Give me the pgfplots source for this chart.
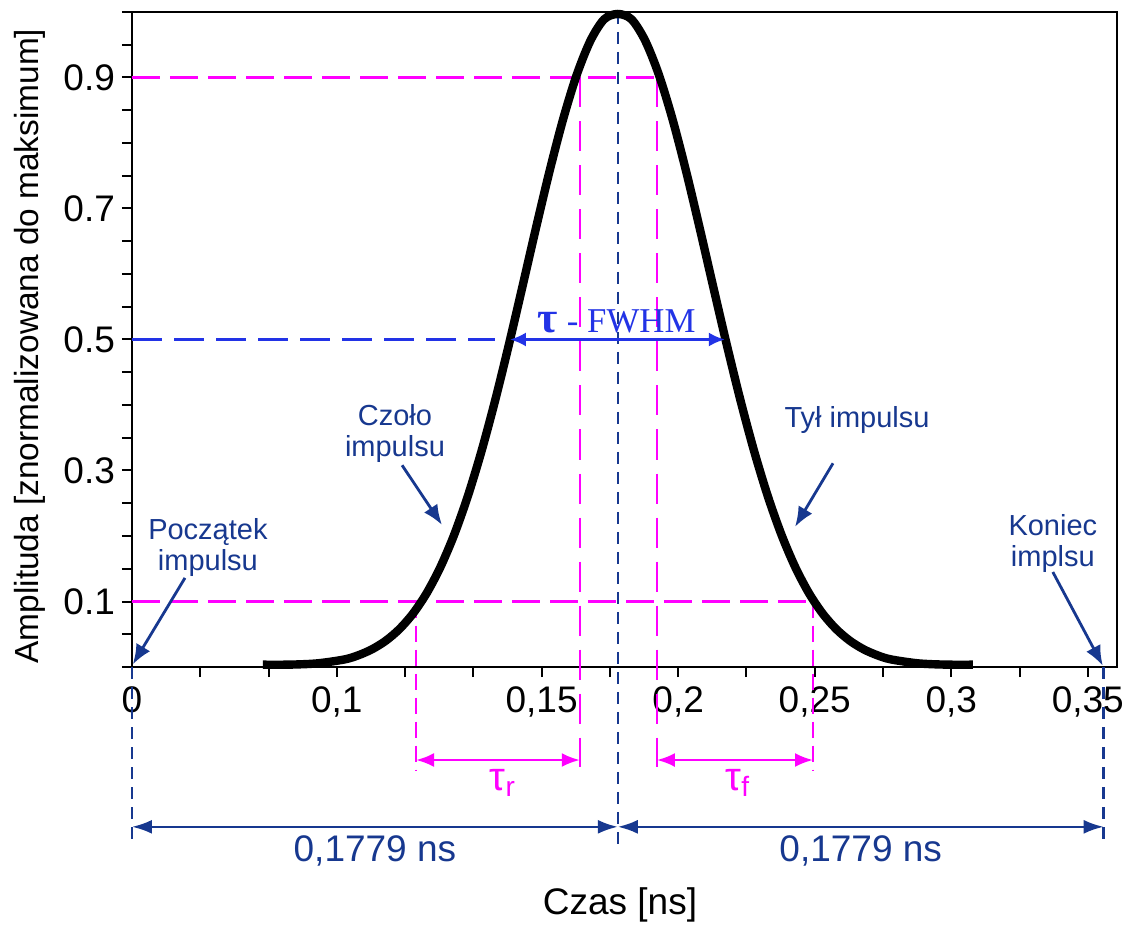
\documentclass[border=0pt]{standalone}
\usepackage{fontspec}
\setmainfont{Liberation Sans}
\newfontfamily\seriffont{Liberation Serif}
\usepackage{pgfplots}
\pgfplotsset{compat=1.18}
\usetikzlibrary{arrows.meta}
\definecolor{navy}{HTML}{17388F}
\definecolor{fwhm}{HTML}{2233E6}
\definecolor{mag}{HTML}{FF00FF}
\newcommand{\bigf}{\fontsize{18.5}{20}\selectfont}
\newcommand{\annf}{\fontsize{14.5}{15.5}\selectfont}
\begin{document}
\begin{tikzpicture}
\useasboundingbox (-66pt,-129.5pt) rectangle (498.5pt,333.5pt);
\begin{axis}[
  at={(0,0)}, anchor=south west,
  scale only axis, width=492.5pt, height=327.5pt,
  xmin=0, xmax=0.3607, ymin=0, ymax=1,
  clip=false,
  axis line style={line width=1pt},
  every tick/.style={line width=1pt, black},
  tick align=outside, major tick length=5pt,
  xtick pos=left, ytick pos=left,
  xtick={0,0.025,0.05,0.075,0.1,0.125,0.15,0.175,0.2,0.225,0.25,0.275,0.3,0.325,0.35},
  xticklabels={0,{},{},{0,1},{},{},{0,15},{},{0,2},{},{0,25},{},{0,3},{},{0,35}},
  ytick={0,0.05,0.1,0.15,0.2,0.25,0.3,0.35,0.4,0.45,0.5,0.55,0.6,0.65,0.7,0.75,0.8,0.85,0.9,0.95,1},
  yticklabels={{},{},0.1,{},{},{},0.3,{},{},{},0.5,{},{},{},0.7,{},{},{},0.9,{},{}},
  tick label style={font=\bigf},
  xticklabel style={yshift=-1.5pt},
  xlabel={Czas [ns]},
  xlabel style={font=\bigf, at={(axis description cs:0.4954,-0.363)}, anchor=center},
  ylabel={Amplituda [znormalizowana do maksimum]},
  ylabel style={font=\fontsize{16.7}{18}\selectfont, at={(axis description cs:-0.1036,0.49)}, anchor=center},
]
% magenta guide lines
\addplot[mag, line width=1.3pt, dash pattern=on 14pt off 5pt] coordinates {(0,0.9) (0.1922,0.9)};
\addplot[mag, line width=1.3pt, dash pattern=on 15pt off 7pt] coordinates {(0.1640,0.9) (0.1640,-0.153)};
\addplot[mag, line width=1.3pt, dash pattern=on 15pt off 7pt] coordinates {(0.1922,0.9) (0.1922,-0.153)};
\addplot[mag, line width=1.3pt, dash pattern=on 14pt off 5pt] coordinates {(0,0.1) (0.2494,0.1)};
\addplot[mag, line width=1.3pt, dash pattern=on 8pt off 4pt] coordinates {(0.1040,0.1) (0.1040,-0.157)};
\addplot[mag, line width=1.3pt, dash pattern=on 8pt off 4pt] coordinates {(0.2494,0.1) (0.2494,-0.157)};
% blue half-maximum line
\addplot[fwhm, line width=1.3pt, dash pattern=on 15pt off 6pt] coordinates {(0,0.5) (0.1330,0.5)};
% navy vertical guides
\addplot[navy, line width=1.2pt, dash pattern=on 6pt off 4pt] coordinates {(0.1779,1) (0.1779,-0.28)};
\addplot[navy, line width=1.2pt, dash pattern=on 6pt off 4pt] coordinates {(0,0) (0,-0.272)};
\addplot[navy, line width=1.2pt, dash pattern=on 6pt off 4pt] coordinates {(0.3558,0) (0.3558,-0.272)};
% pulse
\addplot[black, line width=4.2pt, smooth] coordinates {
(0.0479,0.00354) (0.0579,0.00364) (0.0679,0.00556) (0.0779,0.01162)
(0.0829,0.01794) (0.0879,0.02708) (0.0929,0.04000) (0.0979,0.05776)
(0.1029,0.08158) (0.1079,0.11269) (0.1129,0.15223) (0.1179,0.20111)
(0.1229,0.25983) (0.1279,0.32830) (0.1329,0.40568) (0.1379,0.49025)
(0.1429,0.57939) (0.1479,0.66968) (0.1529,0.75695) (0.1579,0.83677)
(0.1629,0.90462) (0.1679,0.95644) (0.1729,0.98892) (0.1779,0.997)
(0.1829,0.98892) (0.1879,0.95644) (0.1929,0.90462) (0.1979,0.83677)
(0.2029,0.75695) (0.2079,0.66968) (0.2129,0.57939) (0.2179,0.49025)
(0.2229,0.40568) (0.2279,0.32830) (0.2329,0.25983) (0.2379,0.20111)
(0.2429,0.15223) (0.2479,0.11269) (0.2529,0.08158) (0.2579,0.05776)
(0.2629,0.04000) (0.2679,0.02708) (0.2729,0.01794) (0.2779,0.01162)
(0.2879,0.00556) (0.2979,0.00364) (0.3079,0.00354)};
% FWHM arrow and label
\draw[fwhm, line width=1.3pt, {Latex[length=8pt,width=7pt]}-{Latex[length=8pt,width=7pt]}] (axis cs:0.1384,0.5) -- (axis cs:0.2171,0.5);
\node[fwhm, font=\seriffont\fontsize{17.4}{19}\selectfont] at (axis cs:0.1775,0.528) {{\fontsize{22}{22}\selectfont\textbf{τ}} - FWHM};
% rise / fall arrows
\draw[mag, line width=1.3pt, {Latex[length=9pt,width=7pt]}-{Latex[length=9pt,width=7pt]}] (axis cs:0.1040,-0.142) -- (axis cs:0.1640,-0.142);
\draw[mag, line width=1.3pt, {Latex[length=9pt,width=7pt]}-{Latex[length=9pt,width=7pt]}] (axis cs:0.1922,-0.142) -- (axis cs:0.2494,-0.142);
\node[mag, font=\fontsize{20}{22}\selectfont] at (axis cs:0.1358,-0.177) {τ\textsubscript{r}};
\node[mag, font=\fontsize{20}{22}\selectfont] at (axis cs:0.2219,-0.177) {τ\textsubscript{f}};
% half-period arrows
\draw[navy, line width=1.2pt, {Latex[length=10pt,width=7pt]}-{Latex[length=10pt,width=7pt]}] (axis cs:0,-0.244) -- (axis cs:0.1779,-0.244);
\draw[navy, line width=1.2pt, {Latex[length=10pt,width=7pt]}-{Latex[length=10pt,width=7pt]}] (axis cs:0.1779,-0.244) -- (axis cs:0.3558,-0.244);
\node[navy, font=\bigf] at (axis cs:0.08895,-0.281) {0,1779 ns};
\node[navy, font=\bigf] at (axis cs:0.26685,-0.281) {0,1779 ns};
% annotations
\node[navy, align=center, font=\annf] at (axis cs:0.0278,0.182) {Początek\\impulsu};
\draw[navy, line width=1.4pt, -{Latex[length=10pt,width=8pt]}] (axis cs:0.0194,0.136) -- (axis cs:0.0003,0.004);
\node[navy, align=center, font=\annf] at (axis cs:0.0963,0.356) {Czoło\\impulsu};
\draw[navy, line width=1.4pt, -{Latex[length=10pt,width=8pt]}] (axis cs:0.0989,0.308) -- (axis cs:0.1135,0.217);
\node[navy, font=\annf] at (axis cs:0.2655,0.377) {Tył impulsu};
\draw[navy, line width=1.4pt, -{Latex[length=10pt,width=8pt]}] (axis cs:0.2567,0.311) -- (axis cs:0.2428,0.214);
\node[navy, align=center, font=\annf] at (axis cs:0.3372,0.189) {Koniec\\implsu};
\draw[navy, line width=1.4pt, -{Latex[length=10pt,width=8pt]}] (axis cs:0.3372,0.145) -- (axis cs:0.3555,0.002);
\end{axis}
\end{tikzpicture}
\end{document}
